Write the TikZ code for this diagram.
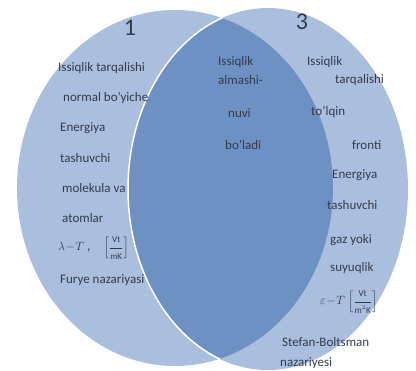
\documentclass[tikz,border=0pt]{standalone}
\usepackage{amsmath}
\usepackage{fontspec}
\setmainfont{Carlito}
\usetikzlibrary{positioning}
\definecolor{vennlight}{RGB}{170,191,221}
\definecolor{venndark}{RGB}{110,145,195}
\definecolor{venntext}{RGB}{50,60,78}

\begin{document}
\begin{tikzpicture}[x=1pt, y=-1pt,
    txt/.style={anchor=west, inner sep=0pt, text=venntext, font=\fontsize{13}{13}\selectfont},
    num/.style={inner sep=0pt, text=venntext, font=\fontsize{24}{24}\selectfont}
]
\useasboundingbox (0,0) rectangle (416,371);

% the two sets
\fill[vennlight] (175,188) ellipse [x radius=158, y radius=178];
\fill[vennlight] (268,189) ellipse [x radius=140, y radius=181];
\begin{scope}
  \clip (175,188) ellipse [x radius=158, y radius=178];
  \fill[venndark] (268,189) ellipse [x radius=140, y radius=181];
  \draw[white, line width=1.5pt] (268,189) ellipse [x radius=140, y radius=181];
\end{scope}

\node[num] (N1) at (130,28) {1};
\node[num] (N3) at (302,22) {3};

% left set
\node[txt] (L1) at (58,68) {Issiqlik tarqalishi};
\node[txt] (L2) at (63,98) {normal bo'yiche};
\node[txt] (L3) at (60,128) {Energiya};
\node[txt] (L4) at (60,158) {tashuvchi};
\node[txt] (L5) at (62,188) {molekula va};
\node[txt] (L6) at (62,218) {atomlar};
\node[txt] (L7) at (58,248) {$\lambda\!-\!T$ ,\quad $\left[\dfrac{\mbox{\small Vt}}{\mbox{\small mK}}\right]$};
\node[txt] (L8) at (60,280) {Furye nazariyasi};

% common part
\node[txt] (M1) at (218,62) {Issiqlik};
\node[txt] (M2) at (218,80) {almashi-};
\node[txt] (M3) at (228,113) {nuvi};
\node[txt] (M4) at (225,145) {bo'ladi};

% right set
\node[txt] (R1) at (307,62) {Issiqlik};
\node[txt] (R2) at (335,80) {tarqalishi};
\node[txt] (R3) at (311,112) {to'lqin};
\node[txt] (R4) at (352,145) {fronti};
\node[txt] (R5) at (332,175) {Energiya};
\node[txt] (R6) at (327,205) {tashuvchi};
\node[txt] (R7) at (330,240) {gaz yoki};
\node[txt] (R8) at (330,268) {suyuqlik};
\node[txt] (R9) at (320,302) {$\varepsilon\!-\!T$ $\left[\dfrac{\mbox{\small Vt}}{\mbox{\small m$^2$K}}\right]$};
\node[txt] (R10) at (282,342) {Stefan-Boltsman};
\node[txt] (R11) at (280,363) {nazariyesi};
\end{tikzpicture}
\end{document}
